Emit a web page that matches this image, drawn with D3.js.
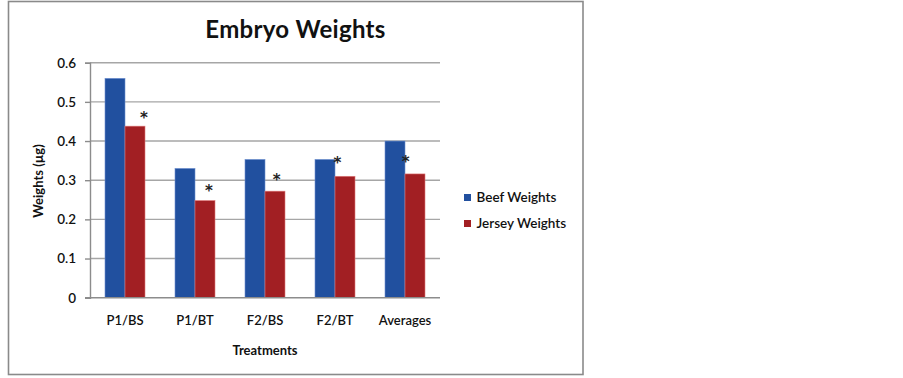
<!DOCTYPE html>
<html>
<head>
<meta charset="utf-8">
<script src="https://cdn.jsdelivr.net/npm/d3@7"></script>
<style>
  body { margin: 0; background: #fff; }
  svg { display: block; font-family: Lato, "Open Sans", sans-serif; }
</style>
</head>
<body>
<div id="chart"></div>
<script>
const categories = ['P1/BS', 'P1/BT', 'F2/BS', 'F2/BT', 'Averages'];
const beefWeights = [0.560, 0.330, 0.353, 0.353, 0.400];
const jerseyWeights = [0.438, 0.248, 0.272, 0.310, 0.316];
const seriesNames = ['Beef Weights', 'Jersey Weights'];
const yTicks = [0, 0.1, 0.2, 0.3, 0.4, 0.5, 0.6];
// significance stars over the jersey bars: level (in µg) and where along the bar
const starLevel = [0.470, 0.282, 0.310, 0.353, 0.357];
const starAlong = [0.95, 0.70, 0.58, 0.12, 0.03];

const W = 903, H = 378;
const M = { t: 63, r: 463, b: 81, l: 90 };
const colors = ['#21509f', '#a21f23'];

const svg = d3.select('#chart').append('svg').attr('width', W).attr('height', H);

// chart border
svg.append('rect').attr('x', 8.5).attr('y', 1.5).attr('width', 574.5).attr('height', 373)
  .attr('fill', '#fff').attr('stroke', '#8a8a8a').attr('stroke-width', 1.6);

const x = d3.scaleBand().domain(categories).range([M.l, W - M.r]).paddingInner(0.4286).paddingOuter(0.2143);
const xs = d3.scaleBand().domain(seriesNames).range([0, x.bandwidth()]);
const y = d3.scaleLinear().domain([0, 0.6]).range([H - M.b + 0.7, M.t - 0.3]);

// gridlines
svg.append('g').selectAll('line').data(yTicks.slice(1)).enter().append('line')
  .attr('x1', M.l).attr('x2', W - M.r)
  .attr('y1', d => y(d)).attr('y2', d => y(d))
  .attr('stroke', '#a6a6a6').attr('stroke-width', 1.4);

// y axis
const ya = svg.append('g').attr('transform', `translate(${M.l},0)`)
  .call(d3.axisLeft(y).tickValues(yTicks).tickFormat(d => d === 0 ? '0' : d3.format('.1f')(d)).tickSize(5).tickPadding(9));
ya.select('.domain').attr('stroke', '#8c8c8c').attr('stroke-width', 1.4);
ya.selectAll('.tick line').attr('stroke', '#8c8c8c').attr('stroke-width', 1.4);
ya.selectAll('.tick text').attr('font-size', 13.5).attr('font-weight', 600).attr('fill', '#111')
  .attr('font-family', 'Lato, sans-serif');

// bars
const rows = categories.map((c, i) => ({ c, vals: [beefWeights[i], jerseyWeights[i]] }));
const grp = svg.append('g').selectAll('g').data(rows).enter().append('g')
  .attr('transform', d => `translate(${x(d.c)},0)`);
grp.selectAll('rect').data(d => d.vals.map((v, k) => ({ v, k }))).enter().append('rect')
  .attr('x', d => xs(seriesNames[d.k]))
  .attr('y', d => y(d.v))
  .attr('width', xs.bandwidth())
  .attr('height', d => y(0) - y(d.v))
  .attr('fill', d => colors[d.k])
  .attr('stroke', d => d.k === 0 ? '#6d8fd0' : '#e07a7a')
  .attr('stroke-width', 0.6);

// x axis
const xa = svg.append('g').attr('transform', `translate(0,${y(0)})`)
  .call(d3.axisBottom(x).tickSize(0).tickPadding(18));
xa.select('.domain').attr('d', `M${M.l - 5},0H${W - M.r}`).attr('stroke', '#8c8c8c').attr('stroke-width', 1.4);
xa.selectAll('.tick text').attr('font-size', 13).attr('font-weight', 600).attr('fill', '#111')
  .attr('font-family', 'Lato, sans-serif');

// stars
svg.append('g').selectAll('text').data(categories).enter().append('text')
  .attr('x', (d, i) => x(d) + xs(seriesNames[1]) + starAlong[i] * xs.bandwidth())
  .attr('y', (d, i) => y(starLevel[i]) + 9)
  .attr('text-anchor', 'middle').attr('font-size', 15).attr('font-weight', 700)
  .attr('font-family', '"DejaVu Sans", sans-serif').attr('fill', '#222')
  .text('*');

// title
svg.append('text').attr('x', 295.5).attr('y', 37.5).attr('text-anchor', 'middle')
  .attr('font-size', 24).attr('font-weight', 700).attr('letter-spacing', 0.3).attr('fill', '#111').text('Embryo Weights');

// axis titles
svg.append('text').attr('x', (M.l + W - M.r) / 2).attr('y', 355).attr('text-anchor', 'middle')
  .attr('font-size', 13).attr('font-weight', 700).attr('fill', '#111').text('Treatments');
svg.append('text').attr('transform', 'translate(43,181) rotate(-90)').attr('text-anchor', 'middle')
  .attr('font-size', 13).attr('font-weight', 700).attr('fill', '#111').text('Weights (µg)');

// legend
const lg = svg.append('g').attr('transform', 'translate(464,0)');
const items = lg.selectAll('g').data(seriesNames).enter().append('g')
  .attr('transform', (d, i) => `translate(0,${197.5 + i * 26})`);
items.append('rect').attr('x', 0).attr('y', -3.5).attr('width', 7).attr('height', 7)
  .attr('fill', (d, i) => colors[i]);
items.append('text').attr('x', 12.5).attr('y', 4.5).attr('font-size', 13.5).attr('font-weight', 600)
  .attr('fill', '#111').text(d => d);
</script>
</body>
</html>
